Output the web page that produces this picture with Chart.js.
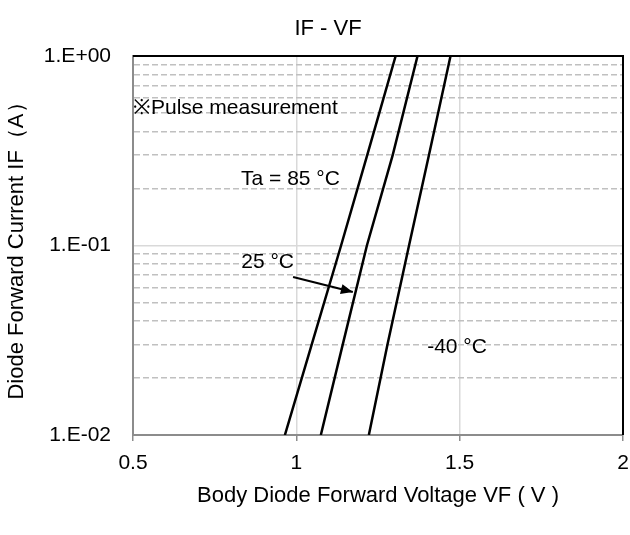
<!DOCTYPE html>
<html>
<head>
<meta charset="utf-8">
<script src="https://cdn.jsdelivr.net/npm/chart.js@4.4.1/dist/chart.umd.min.js"></script>
<style>
  html, body { margin: 0; padding: 0; background: #fff; }
  #wrap { width: 630px; height: 535px; }
</style>
</head>
<body>
<div id="wrap"><canvas id="myChart" width="630" height="535"></canvas></div>
<script>
// data
var currentA = [0.01, 0.03, 0.1, 0.3, 1];
var vf85 = [0.965, 1.047, 1.137, 1.217, 1.304];
var vf25 = [1.075, 1.142, 1.216, 1.295, 1.371];
var vfM40 = [1.222, 1.279, 1.345, 1.406, 1.472];
var yTicks = [0.01, 0.02, 0.03, 0.04, 0.05, 0.06, 0.07, 0.08, 0.09,
              0.1, 0.2, 0.3, 0.4, 0.5, 0.6, 0.7, 0.8, 0.9, 1];
var yLabels = { 0.01: '1.E-02', 0.1: '1.E-01', 1: '1.E+00' };

var FONT = "'Liberation Sans', Arial, sans-serif";

function points(xs) {
    return xs.map(function(v, i) { return { x: v, y: currentA[i] }; });
}

// annotation texts, positioned in data units (V, A)
var notes = [
    { text: '\u203bPulse measurement', x: 0.5, y: 0.532, align: 'left' },
    { text: 'Ta = 85 \u00b0C', x: 0.982, y: 0.224, align: 'center' },
    { text: '25 \u00b0C', x: 0.912, y: 0.0818, align: 'center' },
    { text: '-40 \u00b0C', x: 1.492, y: 0.0291, align: 'center' }
];
var arrow = { x1: 0.990, y1: 0.0682, x2: 1.173, y2: 0.0568 };

var extras = {
    id: 'extras',
    afterDraw: function(chart) {
        var c = chart.ctx, a = chart.chartArea;
        var xs = chart.scales.x, ys = chart.scales.y;
        c.save();
        // top + right frame
        c.strokeStyle = '#000';
        c.lineWidth = 2;
        c.beginPath();
        c.moveTo(a.left, a.top);
        c.lineTo(a.right, a.top);
        c.lineTo(a.right, a.bottom);
        c.stroke();
        // title
        c.fillStyle = '#000';
        c.font = '22px ' + FONT;
        c.textAlign = 'center';
        c.textBaseline = 'middle';
        c.fillText('IF - VF', 328, 29);
        // notes
        c.font = '21px ' + FONT;
        notes.forEach(function(n) {
            c.textAlign = n.align;
            c.fillText(n.text, xs.getPixelForValue(n.x), ys.getPixelForValue(n.y));
        });
        // arrow
        var x1 = xs.getPixelForValue(arrow.x1), y1 = ys.getPixelForValue(arrow.y1);
        var x2 = xs.getPixelForValue(arrow.x2), y2 = ys.getPixelForValue(arrow.y2);
        c.lineWidth = 2;
        c.beginPath();
        c.moveTo(x1, y1);
        c.lineTo(x2, y2);
        c.stroke();
        var ang = Math.atan2(y2 - y1, x2 - x1);
        c.beginPath();
        c.moveTo(x2, y2);
        c.lineTo(x2 - 13 * Math.cos(ang - 0.4), y2 - 13 * Math.sin(ang - 0.4));
        c.lineTo(x2 - 13 * Math.cos(ang + 0.4), y2 - 13 * Math.sin(ang + 0.4));
        c.closePath();
        c.fill();
        c.restore();
    }
};

var ctx = document.getElementById('myChart').getContext('2d');
Chart.defaults.font.family = FONT;
Chart.defaults.color = '#000';

var lineStyle = { borderColor: '#000', borderWidth: 2.5, pointRadius: 0, tension: 0, fill: false };

new Chart(ctx, {
    type: 'scatter',
    data: {
        datasets: [
            Object.assign({ label: '85', data: points(vf85), showLine: true }, lineStyle),
            Object.assign({ label: '25', data: points(vf25), showLine: true }, lineStyle),
            Object.assign({ label: '-40', data: points(vfM40), showLine: true }, lineStyle)
        ]
    },
    options: {
        responsive: false,
        animation: false,
        events: [],
        layout: { padding: { top: 56, right: 7, left: 0, bottom: 0 } },
        plugins: { legend: { display: false }, tooltip: { enabled: false } },
        scales: {
            x: {
                type: 'linear',
                min: 0.5, max: 2,
                ticks: {
                    stepSize: 0.5, font: { size: 21 }, padding: 10,
                    callback: function(v) { return String(v); }
                },
                grid: {
                    color: function(c) {
                        return (c.tick && (c.tick.value === 0.5 || c.tick.value === 2)) ? 'rgba(0,0,0,0)' : '#d9d9d9';
                    },
                    lineWidth: 1.5,
                    tickLength: 6,
                    tickColor: '#8c8c8c'
                },
                border: { color: '#8c8c8c', width: 2 },
                title: {
                    display: true,
                    text: 'Body Diode Forward Voltage VF ( V )',
                    font: { size: 22 },
                    padding: { top: 0, bottom: 26 }
                },
                afterFit: function(s) { s.height = 100; s.paddingLeft = 0; s.paddingRight = 0; }
            },
            y: {
                type: 'logarithmic',
                min: 0.01, max: 1,
                afterBuildTicks: function(s) {
                    s.ticks = yTicks.map(function(v) { return { value: v }; });
                },
                ticks: {
                    autoSkip: false,
                    font: { size: 21 },
                    padding: 22,
                    callback: function(v) { return yLabels[v] || ''; }
                },
                grid: {
                    drawTicks: false,
                    color: function(c) {
                        if (!c.tick) return '#d9d9d9';
                        var v = c.tick.value;
                        if (v === 0.01 || v === 1) return 'rgba(0,0,0,0)';
                        return v === 0.1 ? '#d9d9d9' : '#c0c0c0';
                    },
                    lineWidth: 1.5
                },
                border: {
                    color: '#8c8c8c', width: 2,
                    dash: function(c) {
                        var v = c.tick ? c.tick.value : 0.1;
                        return (v === 0.1 || v === 0.01 || v === 1) ? [] : [6, 3];
                    }
                },
                title: {
                    display: true,
                    text: 'Diode Forward Current IF\uff08A\uff09',
                    font: { size: 22 },
                    padding: { top: 4, bottom: 0 }
                },
                afterFit: function(s) { s.width = 133; s.paddingTop = 0; s.paddingBottom = 0; }
            }
        }
    },
    plugins: [extras]
});
</script>
</body>
</html>
